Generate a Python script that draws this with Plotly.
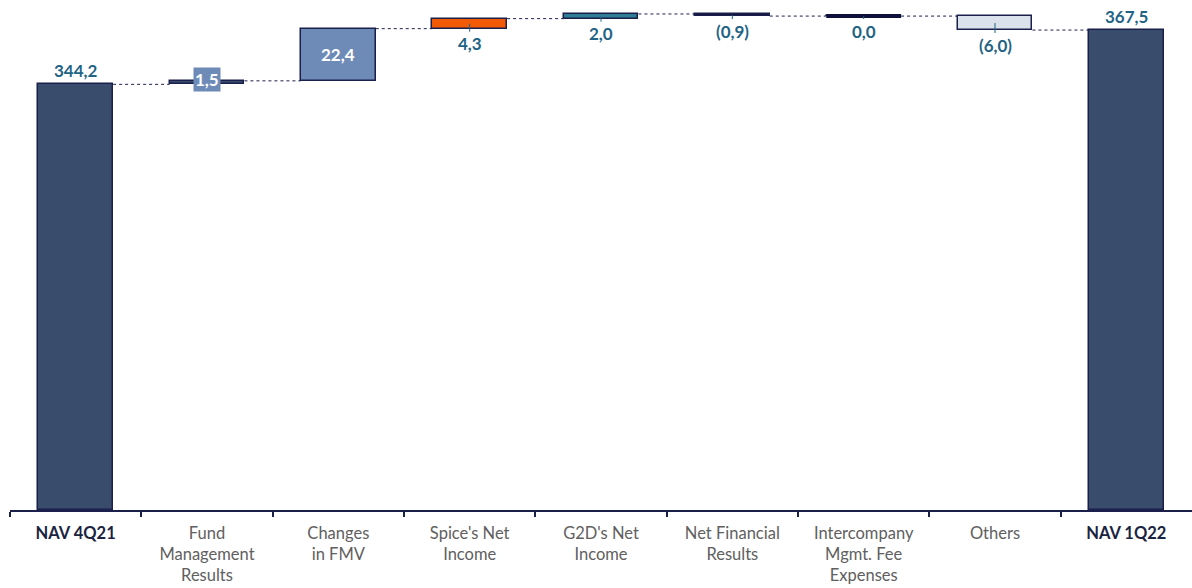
import plotly.graph_objects as go

# ---- data ----
categories = ["NAV 4Q21", "Fund<br>Management<br>Results", "Changes<br>in FMV", "Spice's Net<br>Income",
              "G2D's Net<br>Income", "Net Financial<br>Results", "Intercompany<br>Mgmt. Fee<br>Expenses",
              "Others", "NAV 1Q22"]
values = [344.2, 1.5, 22.4, 4.3, 2.0, -0.9, 0.0, -6.0, 367.5]
measures = ["absolute", "relative", "relative", "relative", "relative", "relative", "relative", "relative", "total"]
bar_colors = ["#3A4C6C", "#3A4C6C", "#6E8BB8", "#F25A05", "#2E7D96", "#0E0F3A", "#0E0F3A", "#DCE2EC", "#3A4C6C"]
label_mode = ["above", "box", "inside", "below", "below", "below", "below", "below", "above"]

# ---- layout constants ----
W, H = 1192, 588
ML, MR, MT, MB = 10, 0, 0, 78
Y_RANGE = [161.5, 380.4]
BAR_W = 0.57
OUTLINE = "#1B1F4B"
LABEL_COLOR = "#1F6485"

px_per_unit = (H - MT - MB) / (Y_RANGE[1] - Y_RANGE[0])

def fmt(v):
    s = f"{abs(v):.1f}".replace(".", ",")
    return f"({s})" if v < 0 else s

# compute bases / heights through running total
bases, heights, levels = [], [], []
running = 0.0
for v, m in zip(values, measures):
    if m == "absolute":
        bases.append(Y_RANGE[0]); heights.append(v - Y_RANGE[0]); running = v
    elif m == "total":
        bases.append(Y_RANGE[0]); heights.append(running - Y_RANGE[0])
    else:
        bases.append(running); heights.append(v); running += v
    levels.append(running)

xs = list(range(len(categories)))

fig = go.Figure()
fig.add_trace(go.Bar(
    x=xs, y=heights, base=bases, width=BAR_W,
    marker=dict(color=bar_colors, line=dict(color=OUTLINE, width=1.5)),
    hoverinfo="skip", showlegend=False,
))

# zero-height bars: draw as thick line so they remain visible
for i, (h, m) in enumerate(zip(heights, measures)):
    if m == "relative" and abs(h) < 1e-9:
        fig.add_trace(go.Scatter(
            x=[i - BAR_W / 2, i + BAR_W / 2], y=[bases[i], bases[i]], mode="lines",
            line=dict(color=bar_colors[i], width=4), hoverinfo="skip", showlegend=False))

# connectors
for i in range(len(categories) - 1):
    lvl = levels[i]
    fig.add_trace(go.Scatter(
        x=[i + BAR_W / 2, i + 1 - BAR_W / 2], y=[lvl, lvl], mode="lines",
        line=dict(color=OUTLINE, width=1, dash="dot"), hoverinfo="skip", showlegend=False))

# value labels
font_lbl = dict(family="Lato, sans-serif", size=17, color=LABEL_COLOR)
for i, (v, mode) in enumerate(zip(values, label_mode)):
    lo = min(bases[i], bases[i] + heights[i])
    hi = max(bases[i], bases[i] + heights[i])
    mid = (lo + hi) / 2
    txt = f"<b>{fmt(v)}</b>"
    if mode == "above":
        fig.add_annotation(x=i, y=hi, text=txt, showarrow=False, yanchor="bottom", yshift=1, font=font_lbl)
    elif mode == "inside":
        fig.add_annotation(x=i, y=mid, text=txt, showarrow=False,
                           font=dict(family="Lato, sans-serif", size=17, color="white"))
    elif mode == "box":
        fig.add_annotation(x=i, y=mid, text=txt, showarrow=False, bgcolor="#6E8BB8", borderpad=1, yshift=3,
                           font=dict(family="Lato, sans-serif", size=17, color="white"))
    else:
        ay = abs(hi - lo) * px_per_unit / 2 + 15
        fig.add_annotation(x=i, y=mid, text=txt, showarrow=True, arrowhead=0, arrowwidth=1,
                           arrowcolor=LABEL_COLOR, ax=0, ay=ay, standoff=0, font=font_lbl)

ticktext = []
for c in categories:
    if c.startswith("NAV"):
        ticktext.append(f"<b><span style='color:#1A2340'>{c}</span></b>")
    else:
        ticktext.append(c)

fig.update_layout(
    width=W, height=H,
    margin=dict(l=ML, r=MR, t=MT, b=MB),
    paper_bgcolor="white", plot_bgcolor="white",
    bargap=0,
    xaxis=dict(
        range=[-0.5, len(categories) - 0.5], tickmode="array", tickvals=xs, ticktext=ticktext,
        ticks="", showgrid=False, zeroline=False, fixedrange=True,
        showline=True, linecolor=OUTLINE, linewidth=1.5,
        ticklabelstandoff=7,
        tickfont=dict(family="Lato, sans-serif", size=16.5, color="#606060"),
        minor=dict(tickmode="array", tickvals=[i - 0.5 for i in range(len(categories))],
                   ticks="outside", ticklen=5, tickwidth=1.5, tickcolor=OUTLINE, showgrid=False),
    ),
    yaxis=dict(range=Y_RANGE, visible=False, fixedrange=True),
)

fig.write_html("out.html")
